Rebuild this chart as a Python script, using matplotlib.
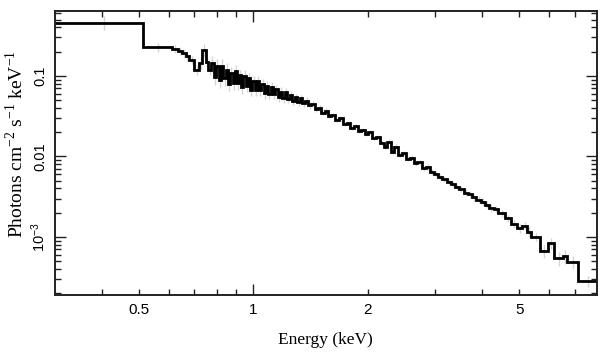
import matplotlib
matplotlib.use("Agg")
import matplotlib.pyplot as plt
import numpy as np
from matplotlib.ticker import FixedLocator, FuncFormatter, NullFormatter

# bin left edges (keV), grouped by region; last edge closes the final bin
edges_soft = [0.3, 0.512, 0.611, 0.634, 0.649, 0.665, 0.677, 0.699, 0.720, 0.733, 0.751, 0.760]
edges_fe_l = [0.774, 0.786, 0.798, 0.810, 0.822, 0.834, 0.846, 0.858, 0.870, 0.882,
              0.894, 0.906, 0.918, 0.930, 0.942, 0.955, 0.968, 0.981, 0.994, 1.008,
              1.022, 1.036, 1.050, 1.065, 1.080, 1.095, 1.110, 1.126, 1.142, 1.158,
              1.175, 1.192, 1.210, 1.228, 1.246, 1.265, 1.285, 1.305, 1.325, 1.345,
              1.370, 1.395]
edges_mid = [1.42, 1.45, 1.48, 1.51, 1.54, 1.57, 1.60, 1.64, 1.68, 1.72,
             1.76, 1.80, 1.84, 1.88, 1.92, 1.96, 2.00, 2.05, 2.10, 2.15,
             2.20, 2.25, 2.30, 2.35, 2.40, 2.46, 2.52, 2.58, 2.64, 2.70,
             2.77, 2.84, 2.91, 2.98, 3.06, 3.14, 3.22, 3.30, 3.39, 3.48,
             3.57, 3.66, 3.76, 3.86, 3.96, 4.06, 4.17, 4.28]
edges_hard = [4.40, 4.59, 4.76, 4.94, 5.09, 5.25, 5.38, 5.68, 5.96, 6.18, 6.53, 6.69, 7.15, 8.0]

# unfolded flux (photons cm^-2 s^-1 keV^-1)
flux_soft = [0.459, 0.227, 0.2165, 0.206, 0.191, 0.174, 0.158, 0.119, 0.145, 0.210, 0.150, 0.119]
flux_fe_l = [0.1442, 0.0972, 0.1339, 0.0883, 0.1335, 0.0944, 0.1188, 0.0803, 0.1083, 0.0822,
             0.1135, 0.0804, 0.1014, 0.0719, 0.0993, 0.0754, 0.0928, 0.0673, 0.0866, 0.0673,
             0.0869, 0.0660, 0.0795, 0.0604, 0.0744, 0.0592, 0.0729, 0.0593, 0.0682, 0.0543,
             0.0637, 0.0531, 0.0623, 0.0519, 0.0582, 0.0484, 0.0542, 0.0472, 0.0529, 0.0460,
             0.0490, 0.0435]
flux_mid = [0.0445, 0.0385, 0.0402, 0.0350, 0.0368, 0.0320, 0.0330, 0.0284, 0.0296, 0.0255,
            0.0262, 0.0228, 0.0237, 0.0206, 0.0213, 0.0188, 0.0199, 0.0168, 0.0176, 0.0148,
            0.0132, 0.0152, 0.0114, 0.0132, 0.0105, 0.0110, 0.0094, 0.0096, 0.0082, 0.0084,
            0.0071, 0.0074, 0.0064, 0.0061, 0.0056, 0.0053, 0.0048, 0.00455, 0.00418, 0.00395,
            0.00356, 0.00337, 0.0031, 0.0029, 0.00273, 0.00252, 0.00232, 0.0022]
flux_hard = [0.00199, 0.00172, 0.00145, 0.00129, 0.00137, 0.00115, 0.00100, 0.00067, 0.00084,
             0.00055, 0.00058, 0.00049, 0.000284]

# fractional 1-sigma errors
err_soft = [0.2, 0.12, 0.12, 0.12, 0.12, 0.12, 0.12, 0.15, 0.15, 0.18, 0.15, 0.15]
err_fe_l = [0.22, 0.2, 0.22, 0.2, 0.22, 0.2, 0.2, 0.2, 0.2, 0.18,
            0.2, 0.18, 0.18, 0.18, 0.18, 0.16, 0.18, 0.16, 0.16, 0.16,
            0.16, 0.15, 0.15, 0.15, 0.15, 0.14, 0.14, 0.14, 0.14, 0.13,
            0.13, 0.13, 0.12, 0.12, 0.12, 0.11, 0.11, 0.11, 0.1, 0.1,
            0.1, 0.1]
err_mid = [0.08, 0.08, 0.07, 0.07, 0.07, 0.07, 0.06, 0.06, 0.06, 0.06,
           0.06, 0.06, 0.06, 0.06, 0.06, 0.06, 0.06, 0.06, 0.06, 0.07,
           0.07, 0.07, 0.07, 0.07, 0.07, 0.07, 0.07, 0.07, 0.08, 0.08,
           0.08, 0.08, 0.08, 0.08, 0.08, 0.09, 0.09, 0.09, 0.09, 0.09,
           0.1, 0.1, 0.1, 0.1, 0.1, 0.1, 0.11, 0.11]
err_hard = [0.1, 0.1, 0.12, 0.12, 0.12, 0.14, 0.12, 0.18, 0.16, 0.2, 0.2, 0.18, 0.15]

edges = np.array(edges_soft + edges_fe_l + edges_mid + edges_hard)
flux = np.array(flux_soft + flux_fe_l + flux_mid + flux_hard)
err = np.array(err_soft + err_fe_l + err_mid + err_hard) * flux
centers = 0.5 * (edges[:-1] + edges[1:])

plt.rcParams["mathtext.fontset"] = "custom"
plt.rcParams["mathtext.rm"] = "Liberation Serif"
plt.rcParams["mathtext.sf"] = "Liberation Sans"

fig = plt.figure(figsize=(6.09, 3.57), dpi=100)
ax = fig.add_axes([0.0895, 0.175, 0.8905, 0.793])

ax.vlines(centers, flux - err, flux + err, color="#d4d4d4", lw=1.0, zorder=1)
ax.stairs(flux, edges, baseline=None, color="black", lw=2.0, zorder=2)

ax.set_xscale("log")
ax.set_yscale("log")
ax.set_xlim(0.3, 8.0)
ax.set_ylim(1.93e-4, 0.63)

# x ticks: long tick only at 1 keV, labels at 0.5, 1, 2, 5
ax.xaxis.set_major_locator(FixedLocator([1.0]))
ax.xaxis.set_major_formatter(FuncFormatter(lambda v, p: "1"))
ax.xaxis.set_minor_locator(FixedLocator([0.4, 0.5, 0.6, 0.7, 0.8, 0.9, 2, 3, 4, 5, 6, 7]))
minor_lbl = {0.5: "0.5", 2: "2", 5: "5"}
ax.xaxis.set_minor_formatter(FuncFormatter(lambda v, p: minor_lbl.get(round(v, 2), "")))

ax.yaxis.set_major_locator(FixedLocator([1e-3, 1e-2, 1e-1]))
ax.yaxis.set_major_formatter(FuncFormatter(
    lambda v, p: {1e-3: r"$\mathsf{10^{-3}}$", 1e-2: "0.01", 1e-1: "0.1"}.get(v, "")))
ax.yaxis.set_minor_locator(matplotlib.ticker.LogLocator(base=10, subs=np.arange(2, 10)))
ax.yaxis.set_minor_formatter(NullFormatter())

tick_font = "Liberation Sans"
ax.tick_params(which="both", direction="in", top=True, right=True, color="#222222", width=1.0)
ax.tick_params(which="major", length=8)
ax.tick_params(which="minor", length=4)
ax.tick_params(axis="x", which="both", labelsize=11, pad=6)
ax.tick_params(axis="y", which="major", labelsize=10.5, pad=5, labelrotation=90)
for lbl in ax.get_xticklabels(which="both") + ax.get_yticklabels():
    lbl.set_fontfamily(tick_font)
for lbl in ax.get_yticklabels():
    lbl.set_va("center")

for s in ax.spines.values():
    s.set_linewidth(1.4)
    s.set_color("#222222")

ax.set_xlabel("Energy (keV)", fontfamily="Liberation Serif", fontsize=12.5, labelpad=11)
ax.set_ylabel(r"Photons cm$^{-2}$ s$^{-1}$ keV$^{-1}$", fontfamily="Liberation Serif",
              fontsize=14, labelpad=0)
ax.yaxis.set_label_coords(-0.05, 0.53)

fig.savefig("out.png", dpi=100)
